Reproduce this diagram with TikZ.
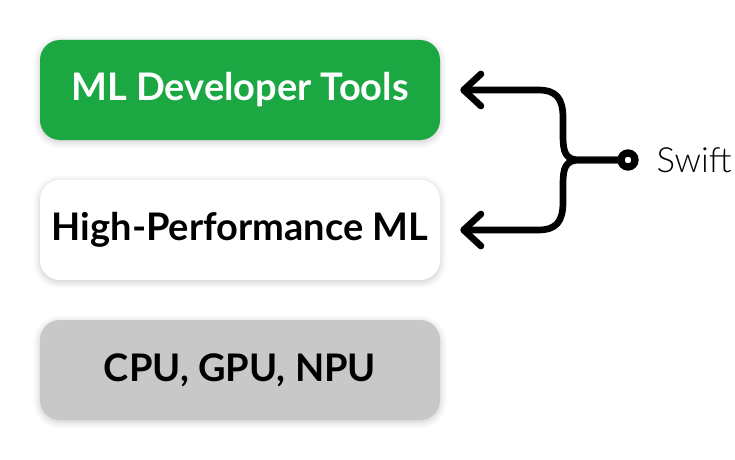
\documentclass[tikz,border=0pt]{standalone}
\usepackage{fontspec}
\setmainfont{Lato}
\newfontfamily\swiftfont{Lato Light}
\usetikzlibrary{arrows.meta,shadows.blur}
\definecolor{mlgreen}{HTML}{1BA843}
\definecolor{hwgray}{HTML}{C8C8C8}
\tikzset{
  layer/.style={rounded corners=15pt,minimum width=300pt,minimum height=75pt,
    font=\fontsize{28.5}{32}\selectfont\bfseries,
    blur shadow={shadow xshift=0pt,shadow yshift=-1.5pt,shadow blur radius=5pt,shadow opacity=22}},
  link/.style={line width=5pt,line cap=round,line join=round,
    -{Straight Barb[length=13pt,width=24pt,line cap=round,line join=round]}}
}
\begin{document}
\begin{tikzpicture}[x=0.75pt,y=-0.75pt]
\useasboundingbox (0,0) rectangle (735,460);
\node[layer,fill=mlgreen,text=white] (tools) at (240,90) {ML Developer Tools};
\node[layer,fill=white] (perf) at (240,230) {High-Performance ML};
\node[layer,fill=hwgray] (hw) at (240,370) {CPU, GPU, NPU};
\node[circle,draw,line width=5.5pt,fill=white,minimum size=10.5pt,inner sep=0pt] (dot) at (628,160) {};
\node[anchor=west,font=\fontsize{26}{30}\swiftfont] (swift) at (652,160) {Swift};
% the two branches
\draw[link] (dot.west) -- (580,160) .. controls (565,160) and (563,152) .. (563,135)
  -- (563,118) .. controls (563,98) and (556,90) .. (538,90) -- ([xshift=15pt]tools.east);
\draw[link] (dot.west) -- (580,160) .. controls (565,160) and (563,168) .. (563,185)
  -- (563,202) .. controls (563,222) and (556,230) .. (538,230) -- ([xshift=15pt]perf.east);
\end{tikzpicture}
\end{document}
